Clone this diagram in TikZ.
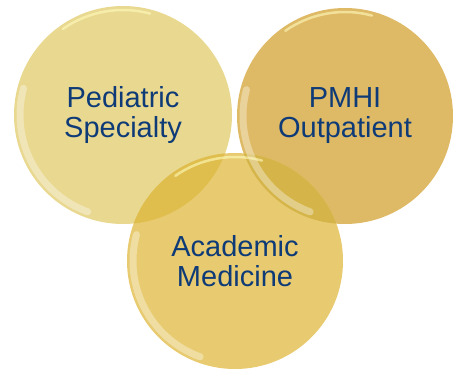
\documentclass[tikz,border=0pt]{standalone}
\usepackage{fontspec}
\setmainfont{Liberation Sans}
\usepackage{xcolor}
\usepackage{tikz}
\usetikzlibrary{positioning}
\definecolor{paleGold}{HTML}{E9D88F}
\definecolor{midGold}{HTML}{E8CB70}
\definecolor{deepGold}{HTML}{DFBA66}
\definecolor{lapGold}{HTML}{E0BE4E}
\definecolor{navyText}{HTML}{0E3B77}
\tikzset{
    bubble/.style = {circle, draw=none, inner sep=0pt},
    caption/.style = {align=center, inner sep=0pt, text=navyText,
                      font=\fontsize{29}{30}\selectfont},
    rimlight/.style = {white, line width=7pt, opacity=0.35, line cap=round},
    rimshine/.style = {yellow!25!white, line width=2.5pt, opacity=0.6, line cap=round},
}

\begin{document}
\begin{tikzpicture}[x=1pt,y=-1pt]
\useasboundingbox (0,0) rectangle (455,372);
\node[bubble,fill=paleGold,minimum size=218pt] at (123,115) (ped) {};
\node[bubble,fill=deepGold,minimum size=216pt] at (345,116) (pmhi) {};
\node[bubble,fill=midGold,minimum size=216pt] at (235,261) (acad) {};
% overlaps
\begin{scope}
\clip (acad.center) circle (108pt);
\fill[lapGold] (ped.center) circle (109pt);
\fill[lapGold!95!black] (pmhi.center) circle (108pt);
\end{scope}
% rims
\draw[rimlight] ([shift={(165:103pt)}]ped.center) arc[start angle=165, end angle=250, radius=103pt];
\draw[rimlight] ([shift={(165:102pt)}]pmhi.center) arc[start angle=165, end angle=250, radius=102pt];
\draw[rimlight] ([shift={(165:102pt)}]acad.center) arc[start angle=165, end angle=250, radius=102pt];
\draw[rimshine] ([shift={(75:105pt)}]ped.center) arc[start angle=75, end angle=125, radius=105pt];
\draw[rimshine] ([shift={(75:104pt)}]pmhi.center) arc[start angle=75, end angle=125, radius=104pt];
\draw[rimshine] ([shift={(75:104pt)}]acad.center) arc[start angle=75, end angle=125, radius=104pt];
% labels
\node[caption] at (ped.center) (pedtxt) {Pediatric\\Specialty};
\node[caption] at (pmhi.center) (pmhitxt) {PMHI\\Outpatient};
\node[caption] at (acad.center) (acadtxt) {Academic\\Medicine};
\end{tikzpicture}
\end{document}
